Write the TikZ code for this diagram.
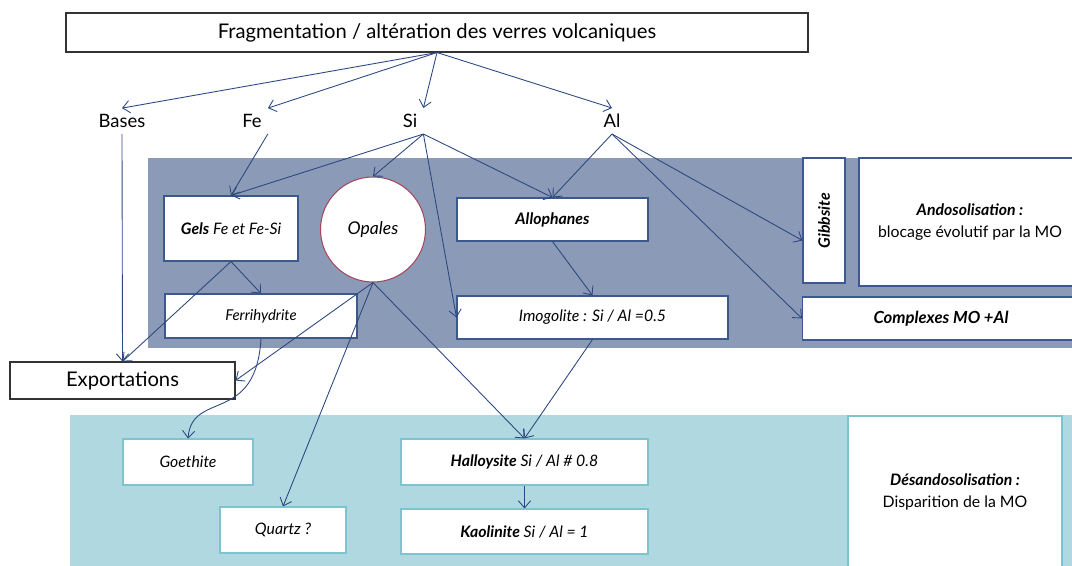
\documentclass[tikz,border=0pt]{standalone}
\usepackage{fontspec}
\setmainfont{Lato}
\usetikzlibrary{arrows.meta}

\definecolor{darkpanel}{RGB}{139,154,182}
\definecolor{lightpanel}{RGB}{176,216,224}
\definecolor{arrowblue}{RGB}{45,72,128}
\definecolor{darkline}{RGB}{60,88,140}
\definecolor{lightline}{RGB}{126,195,208}
\definecolor{opalline}{RGB}{165,70,95}

\begin{document}
\begin{tikzpicture}[x=0.02cm,y=-0.02cm]
    \tikzset{big/.style = {font=\fontsize{10.5}{12}\selectfont}}
    \tikzset{dbox/.style = {shape=rectangle,draw=darkline,fill=white,line width=0.6pt,font=\fontsize{9}{10}\selectfont\itshape,align=center,inner sep=1pt}}
    \tikzset{lbox/.style = {dbox,draw=lightline}}
    \tikzset{kbox/.style = {shape=rectangle,draw=black!80,fill=white,line width=0.6pt,font=\fontsize{11.5}{13}\selectfont}}
    \tikzset{edge/.style = {->,>={Straight Barb[length=4pt,width=7pt]},draw=arrowblue,line width=0.5pt}}

    \useasboundingbox (0,0) rectangle (1072,565);
    \clip (0,0) rectangle (1072,565);

    % fonds
    \fill[darkpanel] (148,158) rectangle (1080,348);
    \fill[lightpanel] (70,415) rectangle (1080,570);

    \node[kbox, minimum width=742*0.02cm, minimum height=39*0.02cm] (top) at (437,32.5) {Fragmentation / altération des verres volcaniques};

    \node[big] (bases) at (122,121) {Bases};
    \node[big] (fe) at (252,121) {Fe};
    \node[big] (si) at (410,121) {Si};
    \node[big] (al) at (612,121) {Al};

    \node[dbox, minimum width=134*0.02cm, minimum height=65*0.02cm] (gels) at (231,228.5) {\textbf{Gels} Fe et Fe-Si};
    \node[dbox, shape=circle, draw=opalline, minimum size=105*0.02cm, font=\fontsize{10}{12}\selectfont\itshape] (opales) at (373,229.5) {Opales};
    \node[dbox, minimum width=191*0.02cm, minimum height=43*0.02cm] (allo) at (552.5,219.5) {\textbf{Allophanes}};
    \node[dbox, minimum width=192*0.02cm, minimum height=44*0.02cm, font=\fontsize{8.5}{10}\selectfont\itshape] (ferri) at (261,316) {Ferrihydrite};
    \node[dbox, minimum width=271*0.02cm, minimum height=43*0.02cm] (imo) at (592.5,317.5) {Imogolite : Si / Al =0.5};
    \node[dbox, minimum width=42*0.02cm, minimum height=125*0.02cm] (gibb) at (824,220.5) {\rotatebox{90}{\textbf{Gibbsite}}};
    \node[dbox, minimum width=222*0.02cm, minimum height=128*0.02cm, font=\fontsize{9}{12.5}\selectfont] (ando) at (970,222) {\textbf{\itshape Andosolisation :}\\blocage évolutif par la MO};
    \node[dbox, minimum width=277*0.02cm, minimum height=43*0.02cm, font=\fontsize{9.5}{11}\selectfont\itshape] (cplx) at (941,318.5) {\textbf{Complexes MO +Al}};

    \node[kbox, minimum width=225*0.02cm, minimum height=37*0.02cm] (export) at (122.5,380.5) {Exportations};

    \node[lbox, minimum width=130*0.02cm, minimum height=46*0.02cm] (goeth) at (188,462) {Goethite};
    \node[lbox, minimum width=126*0.02cm, minimum height=46*0.02cm] (quartz) at (283,530) {Quartz ?};
    \node[lbox, minimum width=247*0.02cm, minimum height=46*0.02cm] (hallo) at (524.5,462) {\textbf{Halloysite} Si / Al \# 0.8};
    \node[lbox, minimum width=247*0.02cm, minimum height=45*0.02cm] (kaol) at (524.5,531.5) {\textbf{Kaolinite} Si / Al = 1};
    \node[lbox, minimum width=214*0.02cm, minimum height=152*0.02cm, font=\fontsize{9}{12.5}\selectfont] (desando) at (955,492) {\textbf{\itshape Désandosolisation :}\\Disparition de la MO};

    \draw[edge] (top.south) to (bases.north);
    \draw[edge] (top.south) to (fe.north east);
    \draw[edge] (top.south) to (si.north east);
    \draw[edge] (top.south) to (al.north);

    \draw[edge] (bases.south) to (export.north);
    \draw[edge] (fe.south east) to (gels.north);

    \draw[edge] (si.south east) to (gels.north);
    \draw[edge] (si.south east) to (opales.north);
    \draw[edge] (si.south east) to (imo.west);
    \draw[edge] (si.south east) to (allo.north);

    \draw[edge] (al.south) to (allo.north);
    \draw[edge] (al.south) to ([yshift=-0.4cm]gibb.west);
    \draw[edge] (al.south) to (cplx.west);

    \draw[edge] (gels.south) to (ferri.north);
    \draw[edge] (gels.south) to (export.north);

    \draw[edge] (opales.south) to (export.east);
    \draw[edge] (opales.south) to (quartz.north);
    \draw[edge] (opales.south) to (hallo.north);

    \draw[edge] (allo.south) to (imo.north);
    \draw[edge] (imo.south) to (hallo.north);

    \draw[edge] (ferri.south) .. controls (256,425) and (192,390) .. (goeth.north);
    \draw[edge] (hallo.south) to (kaol.north);
\end{tikzpicture}
\end{document}
